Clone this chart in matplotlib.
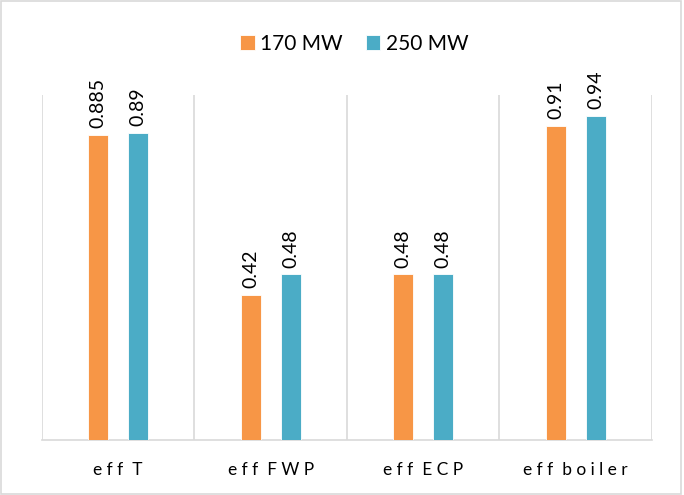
import matplotlib.pyplot as plt
import numpy as np
from matplotlib.patches import Rectangle

categories = ["eff T", "eff FWP", "eff ECP", "eff boiler"]
eff_170 = [0.885, 0.42, 0.48, 0.91]
eff_250 = [0.89, 0.48, 0.48, 0.94]
labels_170 = ["0.885", "0.42", "0.48", "0.91"]
labels_250 = ["0.89", "0.48", "0.48", "0.94"]
series_names = ["170 MW", "250 MW"]

plt.rcParams["font.family"] = ["Lato", "DejaVu Sans"]

ORANGE = "#F79646"
TEAL = "#4BACC6"
GRID = "#D9D9D9"


def spaced(s):
    # widen the category text with quarter-em spaces between letters
    return "  ".join("\u2005".join(word) for word in s.split())


fig = plt.figure(figsize=(6.84, 4.95), dpi=100)
ax = fig.add_axes([0.0614, 0.111, 0.8916, 0.697])

x = np.arange(len(categories))
width = 0.131
b1 = ax.bar(x - width, eff_170, width, color=ORANGE, edgecolor="white", linewidth=0.6,
            label=series_names[0], zorder=3)
b2 = ax.bar(x + width, eff_250, width, color=TEAL, edgecolor="white", linewidth=0.6,
            label=series_names[1], zorder=3)

for bars, labels in ((b1, labels_170), (b2, labels_250)):
    for rect, txt in zip(bars, labels):
        ax.annotate(txt, (rect.get_x() + rect.get_width() / 2, rect.get_height()),
                    xytext=(0, 5), textcoords="offset points", rotation=90,
                    ha="center", va="bottom", fontsize=14, color="#000000")

ax.set_xlim(-0.5, len(categories) - 0.5)
ax.set_ylim(0, 1.0)

# vertical separators between categories
for b in np.arange(-0.5, len(categories), 1.0):
    ax.axvline(b, color=GRID, linewidth=1.2, zorder=1)

for side in ("top", "right", "left"):
    ax.spines[side].set_visible(False)
ax.spines["bottom"].set_color(GRID)
ax.spines["bottom"].set_linewidth(1.2)

ax.set_yticks([])
ax.set_xticks(x)
ax.set_xticklabels([spaced(c) for c in categories], fontsize=12.5, color="#000000")
ax.tick_params(axis="x", length=0, pad=16)

fig.legend(handles=[b1, b2], labels=series_names, loc="center", ncol=2,
           bbox_to_anchor=(0.518, 0.911), frameon=False, fontsize=15,
           handlelength=0.7, handleheight=0.7, handletextpad=0.25, columnspacing=1.1)

# outer chart border
fig.patches.append(Rectangle((0.002, 0.003), 0.994, 0.994, transform=fig.transFigure,
                             fill=False, edgecolor=GRID, linewidth=1.2))

fig.savefig("out.png", dpi=100)
